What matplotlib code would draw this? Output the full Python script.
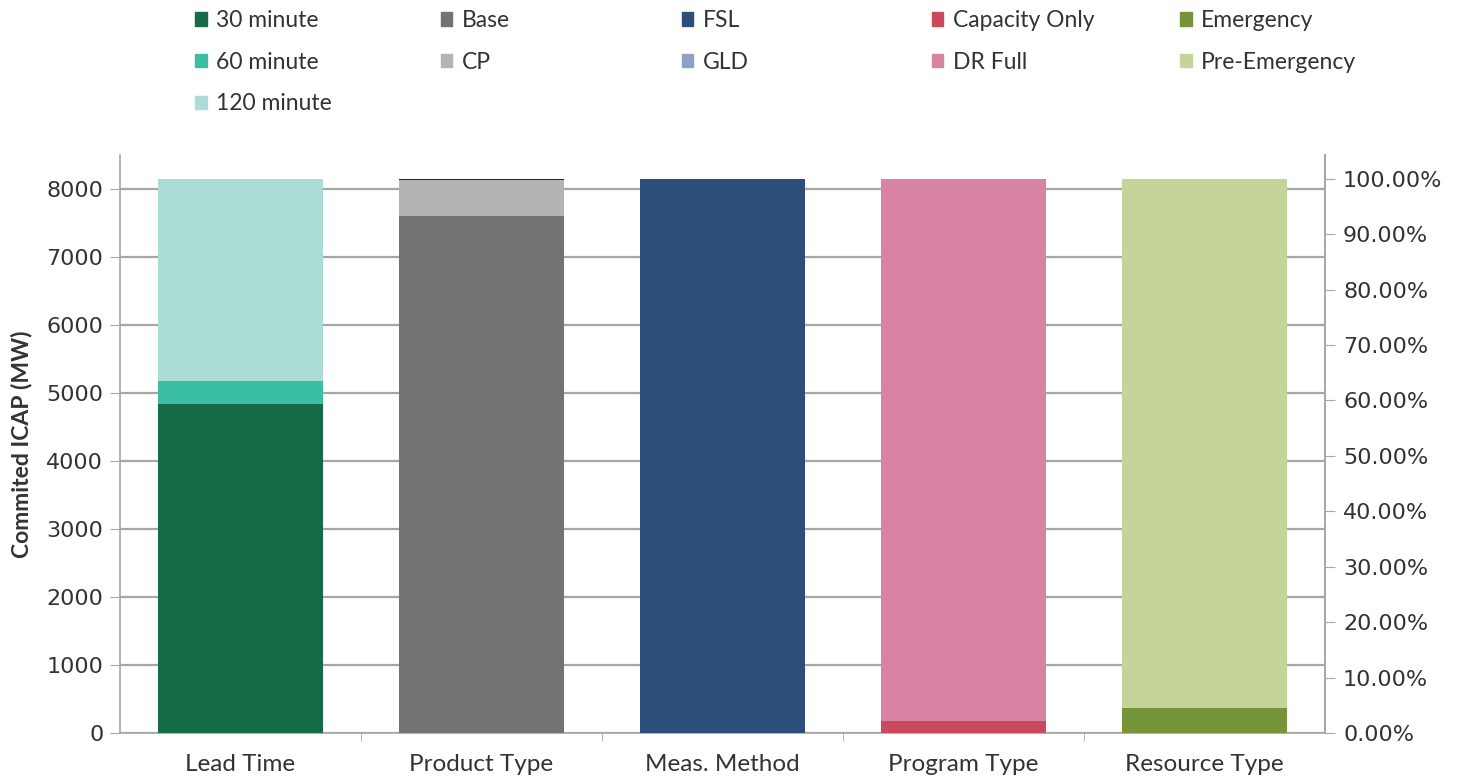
import numpy as np
import matplotlib.pyplot as plt
from matplotlib.patches import Patch
from matplotlib.ticker import FuncFormatter

# Committed ICAP (MW) broken down five ways
categorias = ['Lead Time', 'Product Type', 'Meas. Method', 'Program Type', 'Resource Type']

lead_time = {'30 minute': 4840, '60 minute': 340, '120 minute': 2970}
product_type = {'Base': 7610, 'CP': 520, 'Outro': 20}
meas_method = {'FSL': 8140, 'GLD': 10}
program_type = {'Capacity Only': 170, 'DR Full': 7980}
resource_type = {'Emergency': 370, 'Pre-Emergency': 7780}

cores = {
    '30 minute': '#146b45', '60 minute': '#3bbfa3', '120 minute': '#acdcd6',
    'Base': '#737373', 'CP': '#b4b4b4', 'Outro': '#262626',
    'FSL': '#2d4e7b', 'GLD': '#8fa0c8',
    'Capacity Only': '#c84a5c', 'DR Full': '#d882a4',
    'Emergency': '#76943a', 'Pre-Emergency': '#c5d49a',
}

grupos = [lead_time, product_type, meas_method, program_type, resource_type]
total = sum(lead_time.values())

fig = plt.figure(figsize=(14.61, 7.78), dpi=100)
ax = fig.add_axes([0.0821, 0.0578, 0.8248, 0.743])

cinza = '#a6a6a6'
texto = '#333333'
largura = 0.685
for i, grupo in enumerate(grupos):
    base = 0
    for nome, valor in grupo.items():
        ax.bar(i, valor, bottom=base, width=largura, color=cores[nome], zorder=3)
        base += valor

ax.set_xlim(-0.5, 4.5)
ax.set_ylim(0, 8500)
ax.set_yticks(np.arange(0, 8001, 1000))
ax.yaxis.grid(True, color=cinza, linewidth=1.6, zorder=0)
ax.set_xticks(range(5))
ax.set_xticklabels(categorias, fontfamily='Lato', fontsize=17.5, color=texto)
ax.set_xticks(np.arange(0.5, 4.5, 1), minor=True)
ax.tick_params(axis='x', which='major', length=0, pad=15)
ax.tick_params(axis='x', which='minor', length=6, color=cinza, direction='out')
ax.tick_params(axis='y', length=7, color=cinza, labelsize=16, labelcolor=texto, pad=5)
for s in ['left', 'bottom', 'right']:
    ax.spines[s].set_color(cinza)
    ax.spines[s].set_linewidth(1.2)
ax.spines['top'].set_visible(False)
ax.set_ylabel('Commited ICAP (MW)', fontfamily='Lato', fontweight='bold',
              fontsize=16.5, color=texto)
ax.yaxis.set_label_coords(-0.073, 0.5)

# eixo secundário em percentual do total
ax2 = ax.twinx()
ax2.set_ylim(0, 8500 / total)
ax2.set_yticks(np.arange(0, 1.001, 0.1))
ax2.yaxis.set_major_formatter(FuncFormatter(lambda v, p: f'{v * 100:.2f}%'))
ax2.tick_params(axis='y', length=7, color=cinza, labelsize=16, labelcolor=texto, pad=6)
for s in ['left', 'bottom', 'top']:
    ax2.spines[s].set_visible(False)
ax2.spines['right'].set_color(cinza)
ax2.spines['right'].set_linewidth(1.2)

# legenda em colunas
colunas = [['30 minute', '60 minute', '120 minute'], ['Base', 'CP'], ['FSL', 'GLD'],
           ['Capacity Only', 'DR Full'], ['Emergency', 'Pre-Emergency']]
xs = [0.1335, 0.3018, 0.4668, 0.6379, 0.8077]
for x, col in zip(xs, colunas):
    handles = [Patch(color=cores[n], label=n) for n in col]
    leg = fig.legend(handles=handles, loc='upper left', bbox_to_anchor=(x, 0.987),
                     frameon=False, borderpad=0, borderaxespad=0,
                     handlelength=0.5, handleheight=0.5, handletextpad=0.4,
                     labelspacing=0.9, prop={'family': 'Lato', 'size': 16.5})
    for t in leg.get_texts():
        t.set_color(texto)

fig.savefig('out.png', dpi=100, facecolor='white')
